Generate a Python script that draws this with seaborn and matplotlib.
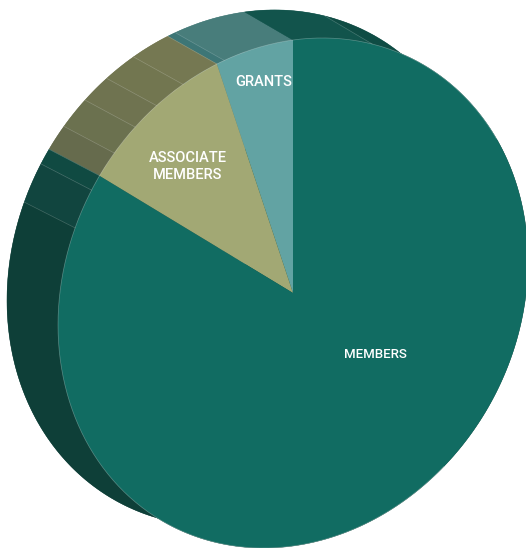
import numpy as np
import matplotlib
matplotlib.use("Agg")
import matplotlib.pyplot as plt
from matplotlib.transforms import Affine2D
import seaborn as sns

categories = ["GRANTS", "ASSOCIATE\nMEMBERS", "MEMBERS"]
shares = [5.25, 10.15, 84.6]
front_colors = ["#62a3a3", "#a2a874", "#116c62"]

# side facets: sweep in degrees, counter-clockwise from the top of the pie
facet_sweeps = [17.0, 1.9, 9.0, 7.6, 6.7, 7.3, 5.9, 3.6, 9.0, 152.0, 120.3, 19.7]
facet_colors = ["#487d7b", "#3d7676", "#757852", "#727650", "#6f7350", "#6b714f",
                "#666b4d", "#104a42", "#11453f", "#0e3f38", "#0f4c44", "#12544c"]

sns.set_theme(style="white")
plt.rcParams["font.family"] = ["Roboto", "Liberation Sans", "DejaVu Sans"]

W, H = 526, 548
fig = plt.figure(figsize=(W / 100, H / 100), dpi=100)
ax = fig.add_axes([0, 0, 1, 1])

CX, CY = 293, 293
AX, AY, BY = 235, 32, 253
DX, DY = -48.2, -25
BACK = 1.012


def skew(dx=0.0, dy=0.0, k=1.0):
    return Affine2D.from_values(k * AX, -k * AY, 0, -k * BY, CX + dx, CY + dy)


def rim(a0, a1, dx=0.0, dy=0.0, k=1.0):
    t = np.radians(90 + np.linspace(a0, a1, max(int(abs(a1 - a0)), 2) + 1))
    u, v = np.cos(t), np.sin(t)
    return CX + dx + k * AX * u, CY + dy - k * (AY * u + BY * v)


def draw_pie(values, colors, dx=0.0, dy=0.0, k=1.0):
    wedges, _ = ax.pie(values, colors=sns.color_palette(colors), startangle=90,
                       counterclock=True, normalize=True,
                       wedgeprops={"linewidth": 0})
    for w in wedges:
        w.set_transform(skew(dx, dy, k) + ax.transData)
    return wedges


# back cap
draw_pie(facet_sweeps, facet_colors, DX, DY, BACK)

# side facets
edges = np.concatenate([[0], np.cumsum(facet_sweeps)])
for a0, a1, c in zip(edges[:-1], edges[1:], facet_colors):
    xf, yf = rim(a0, a1)
    xb, yb = rim(a0, a1, DX, DY, BACK)
    ax.fill(np.r_[xf, xb[::-1]], np.r_[yf, yb[::-1]], color=c, lw=0.3)

# ridge lines between facets (only on the visible upper-left and top)
for a in edges[1:-1]:
    if 100 < a < 330:
        continue
    xf, yf = rim(a, a + 1)
    xb, yb = rim(a, a + 1, DX, DY, BACK)
    ax.plot([xf[0], xb[0]], [yf[0], yb[0]], color="white", alpha=0.22, lw=0.5)

# front face
draw_pie(shares, front_colors)

# thin light seam around the front rim
xr, yr = rim(-60, 220)
ax.plot(xr, yr, color="white", alpha=0.3, lw=0.5)

ax.text(264, 82.5, categories[0], color="white", fontsize=10.5, fontweight="medium",
        ha="center", va="center")
ax.text(188, 166.5, categories[1], color="white", fontsize=10.5, fontweight="medium",
        ha="center", va="center", linespacing=1.25)
ax.text(375, 354, categories[2], color="white", fontsize=9.5, fontweight="medium",
        ha="center", va="center")

ax.set_aspect("auto")
ax.set_xlim(0, W)
ax.set_ylim(H, 0)
ax.axis("off")
fig.savefig("out.png", dpi=100, facecolor="white")
